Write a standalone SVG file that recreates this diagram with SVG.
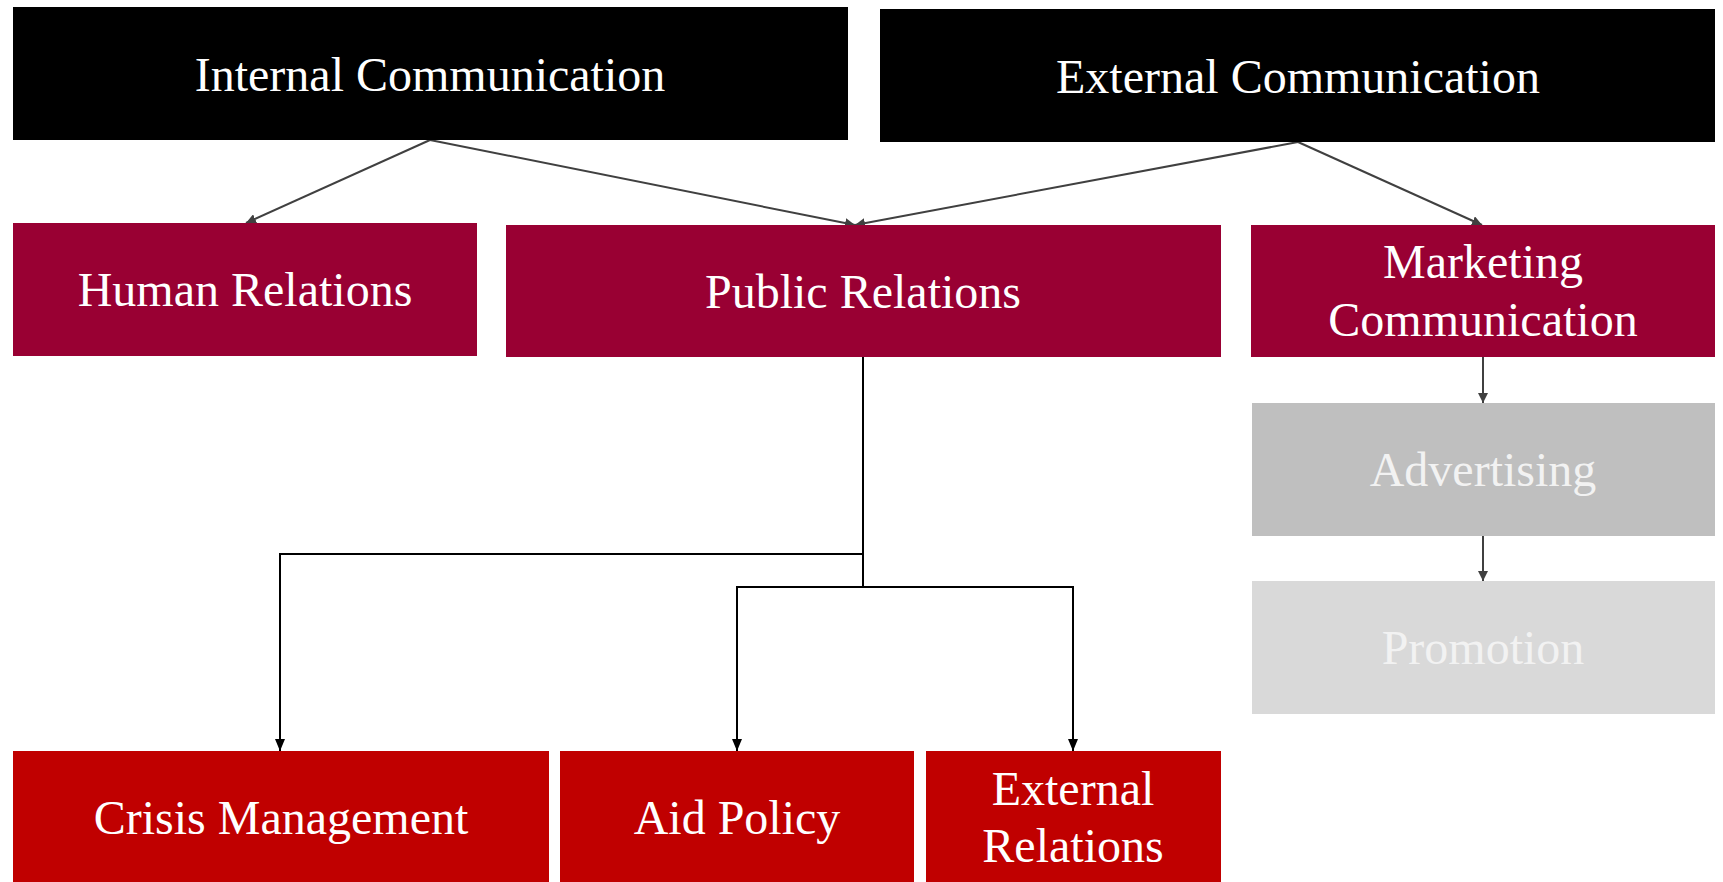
<svg xmlns="http://www.w3.org/2000/svg" width="1723" height="882" viewBox="0 0 1723 882">
<style>
text{font-family:"Liberation Serif","Times New Roman",serif;font-size:48px;fill:#fff;text-anchor:middle}
.soft{fill:#F2F2F2}
.gray{stroke:#404040;stroke-width:2;fill:none}
.blk{stroke:#000;stroke-width:2;fill:none}
</style>
<defs>
<marker id="ag" viewBox="0 0 10 10" refX="10" refY="5" markerWidth="10" markerHeight="10" markerUnits="userSpaceOnUse" orient="auto"><path d="M0,0L10,5L0,10z" fill="#404040"/></marker>
<marker id="ab" viewBox="0 0 12 10" refX="12" refY="5" markerWidth="12" markerHeight="10" markerUnits="userSpaceOnUse" orient="auto"><path d="M0,0L12,5L0,10z" fill="#000"/></marker>
</defs>
<rect width="1723" height="882" fill="#fff"/>
<g id="connectors">
<path class="gray" d="M430,140L246,223" marker-end="url(#ag)"/>
<path class="gray" d="M430,140L855,225" marker-end="url(#ag)"/>
<path class="gray" d="M1298,142L855,225" marker-end="url(#ag)"/>
<path class="gray" d="M1298,142L1482,225" marker-end="url(#ag)"/>
<path class="gray" d="M1483,357L1483,403" marker-end="url(#ag)"/>
<path class="gray" d="M1483,536L1483,581" marker-end="url(#ag)"/>
<path class="blk" d="M863,357L863,554L280,554L280,751" marker-end="url(#ab)"/>
<path class="blk" d="M863,554L863,587L737,587L737,751" marker-end="url(#ab)"/>
<path class="blk" d="M863,587L1073,587L1073,751" marker-end="url(#ab)"/>
</g>
<g id="internal-communication"><rect x="13" y="7" width="835" height="133" fill="#000"/><text x="430" y="91">Internal Communication</text></g>
<g id="external-communication"><rect x="880" y="9" width="835" height="133" fill="#000"/><text x="1298" y="93">External Communication</text></g>
<g id="human-relations"><rect x="13" y="223" width="464" height="133" fill="#990033"/><text x="245" y="306">Human Relations</text></g>
<g id="public-relations"><rect x="506" y="225" width="715" height="132" fill="#990033"/><text x="863" y="308">Public Relations</text></g>
<g id="marketing-communication"><rect x="1251" y="225" width="464" height="132" fill="#990033"/><text x="1483" y="278">Marketing</text><text x="1483" y="336">Communication</text></g>
<g id="advertising"><rect x="1252" y="403" width="463" height="133" fill="#BFBFBF"/><text class="soft" x="1483" y="486">Advertising</text></g>
<g id="promotion"><rect x="1252" y="581" width="463" height="133" fill="#D9D9D9"/><text class="soft" x="1483" y="664">Promotion</text></g>
<g id="crisis-management"><rect x="13" y="751" width="536" height="133" fill="#C00000"/><text x="281" y="834">Crisis Management</text></g>
<g id="aid-policy"><rect x="560" y="751" width="354" height="133" fill="#C00000"/><text x="737" y="834">Aid Policy</text></g>
<g id="external-relations"><rect x="926" y="751" width="295" height="133" fill="#C00000"/><text x="1073" y="805">External</text><text x="1073" y="862">Relations</text></g>
</svg>
